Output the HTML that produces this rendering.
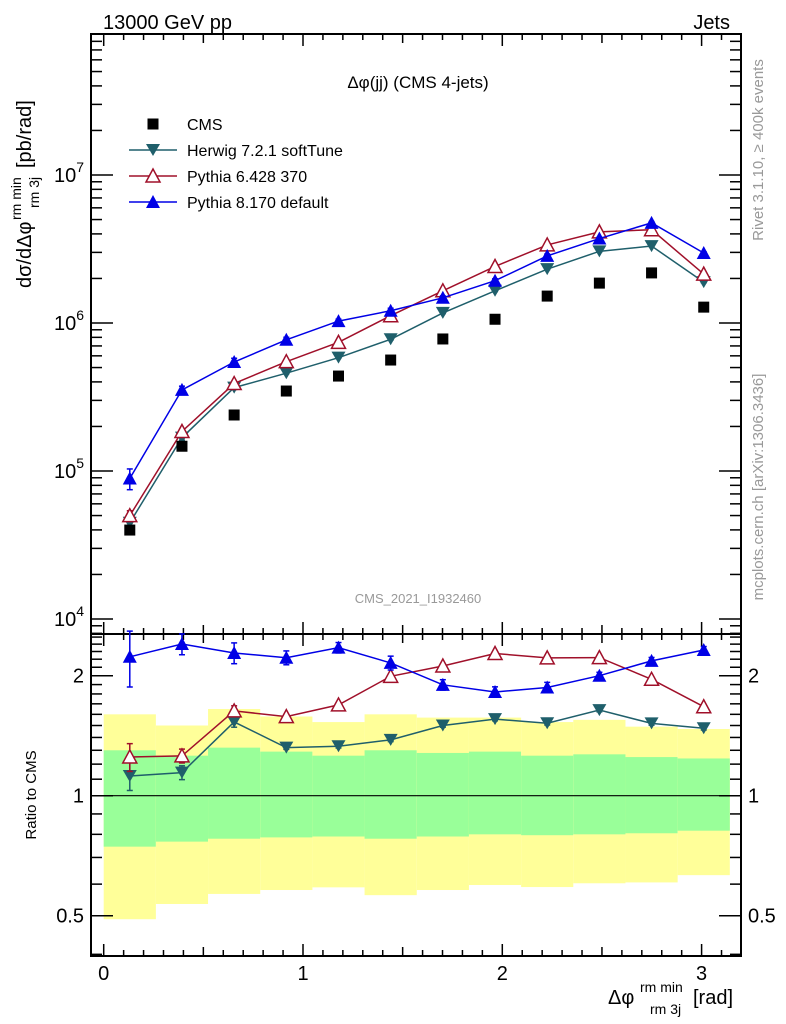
<!DOCTYPE html>
<html><head><meta charset="utf-8"><style>
html,body{margin:0;padding:0;background:#fff;}
svg{display:block;font-family:"Liberation Sans",sans-serif;}
</style></head><body>
<svg id="chart" width="786" height="1024" viewBox="0 0 786 1024">
<g id="bands"></g>
<g id="grid"></g>
<g id="marks"></g>
<text x="103" y="29" font-size="20">13000 GeV pp</text>
<text x="730" y="29" font-size="20" text-anchor="end">Jets</text>
<text x="418" y="88" font-size="17" text-anchor="middle">Δφ(jj) (CMS 4-jets)</text>
<text x="418" y="603" font-size="13" fill="#999" text-anchor="middle">CMS_2021_I1932460</text>
<text transform="translate(763,150) rotate(-90)" font-size="15" fill="#999" text-anchor="middle">Rivet 3.1.10, ≥ 400k events</text>
<text transform="translate(763,487) rotate(-90)" font-size="15" fill="#999" text-anchor="middle">mcplots.cern.ch [arXiv:1306.3436]</text>
<g transform="translate(31,288) rotate(-90)">
<text x="0" y="0" font-size="20">dσ/dΔφ</text>
<text x="68" y="-10" font-size="14">rm min</text>
<text x="80" y="8" font-size="14">rm 3j</text>
<text x="120" y="0" font-size="20">[pb/rad]</text>
</g>
<text transform="translate(36,795) rotate(-90)" font-size="15" text-anchor="middle">Ratio to CMS</text>
<g>
<text x="608" y="1004" font-size="20">Δφ</text>
<text x="640" y="992" font-size="14">rm min</text>
<text x="650" y="1014" font-size="14">rm 3j</text>
<text x="693" y="1004" font-size="20">[rad]</text>
</g>
<g id="legend"></g>
</svg>
<script>
const binEdges=[0,0.2618,0.5236,0.7854,1.0472,1.309,1.5708,1.8326,2.0944,2.3562,2.618,2.8798,3.1416];
const cms=[3.99e4,1.47e5,2.39e5,3.47e5,4.38e5,5.62e5,7.8e5,1.06e6,1.52e6,1.86e6,2.18e6,1.28e6];
const herwig=[4.47e4,1.68e5,3.66e5,4.58e5,5.83e5,7.76e5,1.17e6,1.65e6,2.31e6,3.05e6,3.31e6,1.89e6];
const pythia6=[4.99e4,1.85e5,3.9e5,5.48e5,7.4e5,1.12e6,1.65e6,2.41e6,3.37e6,4.13e6,4.27e6,2.14e6];
const pythia8=[8.9e4,3.53e5,5.45e5,7.7e5,1.03e6,1.21e6,1.48e6,1.93e6,2.84e6,3.72e6,4.75e6,2.97e6];
const herwigErr=[0.08,0.04,0.03,0.01,0.01,0.01,0.01,0.01,0.01,0.01,0.01,0.01];
const pythia6Err=[0.08,0.04,0.03,0.01,0.01,0.01,0.01,0.01,0.01,0.01,0.01,0.01];
const pythia8Err=[0.16,0.06,0.06,0.04,0.03,0.04,0.03,0.03,0.03,0.02,0.02,0.02];
const yellowHi=[1.6,1.5,1.65,1.58,1.53,1.6,1.57,1.57,1.53,1.55,1.49,1.47];
const greenHi=[1.30,1.26,1.32,1.29,1.26,1.30,1.28,1.29,1.26,1.27,1.25,1.24];
const greenLo=[0.745,0.767,0.78,0.786,0.79,0.78,0.79,0.80,0.796,0.80,0.805,0.817];
const yellowLo=[0.49,0.535,0.567,0.58,0.589,0.563,0.58,0.597,0.59,0.603,0.606,0.632];
const xTicks=[0,1,2,3];
const mainTicks=[4,5,6,7];
const ratioTicks=[0.5,1,2];

const NS="http://www.w3.org/2000/svg";
const L=91,R=741,T1=34,B1=634,T2=634,B2=956;
const xs=v=>103.7+199.3*v;
const ym=v=>619-148*(Math.log10(v)-4);
const yr=v=>795.7-120*Math.log2(v);
function mk(parent,tag,attrs){const e=document.createElementNS(NS,tag);for(const k in attrs)e.setAttribute(k,attrs[k]);document.getElementById(parent).appendChild(e);return e;}
const centers=cms.map((_,i)=>(binEdges[i]+binEdges[i+1])/2);

for(let i=0;i<cms.length;i++){
  const x0=xs(binEdges[i]),x1=Math.min(xs(binEdges[i+1]),R);
  let e=mk('bands','rect',{x:x0,y:yr(yellowHi[i]),width:x1-x0,height:yr(yellowLo[i])-yr(yellowHi[i]),fill:'#ffff99'});
  
  
  e=mk('bands','rect',{x:x0,y:yr(greenHi[i]),width:x1-x0,height:yr(greenLo[i])-yr(greenHi[i]),fill:'#99ff99'});
  
  
}
let ln=mk('grid','line',{x1:L,x2:R,y1:yr(1),y2:yr(1),stroke:'#000','stroke-width':1.2});



for(const [t,b] of [[T1,B1],[T2,B2]]){
  const f=mk('grid','rect',{x:L,y:t,width:R-L,height:b-t,fill:'none',stroke:'#000','stroke-width':2});
  
  
  for(let k=0;k<=32;k++){
    const v=k/10;const x=xs(v);if(x>R)break;
    const len=(k%10===0)?12:(k%5===0?9:6);
    mk('grid','line',{x1:x,x2:x,y1:b,y2:b-len,stroke:'#000','stroke-width':1.5});
    mk('grid','line',{x1:x,x2:x,y1:t,y2:t+len,stroke:'#000','stroke-width':1.5});
  }
}
xTicks.forEach(v=>{const t=mk('grid','text',{x:xs(v),y:980,'font-size':20,'text-anchor':'middle'});t.textContent=v;

});
for(let d=3;d<=7;d++)for(let m=1;m<10;m++){
  const v=m*Math.pow(10,d);const y=ym(v);if(y<T1||y>B1)continue;
  const len=m===1?22:11;
  mk('grid','line',{x1:L,x2:L+len,y1:y,y2:y,stroke:'#000','stroke-width':1.5});
  mk('grid','line',{x1:R,x2:R-len,y1:y,y2:y,stroke:'#000','stroke-width':1.5});
}
mainTicks.forEach(d=>{const t=mk('grid','text',{x:84,y:ym(Math.pow(10,d))+7,'font-size':20,'text-anchor':'end'});
t.innerHTML='10<tspan font-size="14" dy="-10">'+d+'</tspan>';

});
[0.4,0.5,0.6,0.7,0.8,0.9,1,1.1,1.2,1.3,1.4,1.5,1.6,1.7,1.8,1.9,2,2.1,2.2,2.3,2.4,2.5].forEach(v=>{
  const y=yr(v);if(y<T2||y>B2)return;
  const len=ratioTicks.includes(v)?22:11;
  mk('grid','line',{x1:L,x2:L+len,y1:y,y2:y,stroke:'#000','stroke-width':1.5});
  mk('grid','line',{x1:R,x2:R-len,y1:y,y2:y,stroke:'#000','stroke-width':1.5});
});
ratioTicks.forEach(v=>{
  let t=mk('grid','text',{x:84,y:yr(v)+7,'font-size':20,'text-anchor':'end'});t.textContent=v;
  
  
  t=mk('grid','text',{x:748,y:yr(v)+7,'font-size':20});t.textContent=v;
  
  
});

function marker(g,type,x,y,color){
  if(type==='square'){return mk(g,'rect',{x:x-5.5,y:y-5.5,width:11,height:11,fill:color});}
  if(type==='down'){return mk(g,'path',{d:`M${x-7},${y-6}L${x+7},${y-6}L${x},${y+6}Z`,fill:color});}
  if(type==='upopen'){return mk(g,'path',{d:`M${x-7},${y+6}L${x+7},${y+6}L${x},${y-7}Z`,fill:'#fff',stroke:color,'stroke-width':1.5});}
  return mk(g,'path',{d:`M${x-7},${y+6}L${x+7},${y+6}L${x},${y-7}Z`,fill:color});
}
const series=[
 {name:'herwig',vals:herwig,err:herwigErr,color:'#1f5f6b',m:'down'},
 {name:'pythia6',vals:pythia6,err:pythia6Err,color:'#a0102a',m:'upopen'},
 {name:'pythia8',vals:pythia8,err:pythia8Err,color:'#0000e6',m:'up'}];
series.forEach(s=>{
  const pm=s.vals.map((v,i)=>[xs(centers[i]),ym(v)]);
  const pr=s.vals.map((v,i)=>[xs(centers[i]),yr(v/cms[i])]);
  for(const [pts,fy,isR] of [[pm,ym,false],[pr,yr,true]]){
    const p=mk('marks','polyline',{points:pts.map(p=>p.join(',')).join(' '),fill:'none',stroke:s.color,'stroke-width':1.5});
    
    
    s.vals.forEach((v,i)=>{
      const base=isR?v/cms[i]:v;
      const y1=fy(base*(1+s.err[i])),y2=fy(base*(1-s.err[i]));
      const x=xs(centers[i]);
      mk('marks','line',{x1:x,x2:x,y1:y1,y2:y2,stroke:s.color,'stroke-width':1.5});
      mk('marks','line',{x1:x-3,x2:x+3,y1:y1,y2:y1,stroke:s.color,'stroke-width':1.5});
      mk('marks','line',{x1:x-3,x2:x+3,y1:y2,y2:y2,stroke:s.color,'stroke-width':1.5});
      const mm=marker('marks',s.m,pts[i][0],pts[i][1],s.color);
      
      
    });
  }
});
cms.forEach((v,i)=>{
  const mm=marker('marks','square',xs(centers[i]),ym(v),'#000');
  
  
});
const leg=[['CMS','square','#000'],['Herwig 7.2.1 softTune','down','#1f5f6b'],['Pythia 6.428 370','upopen','#a0102a'],['Pythia 8.170 default','up','#0000e6']];
leg.forEach((e,i)=>{
  const y=124+i*26;
  if(i>0){mk('legend','line',{x1:129,x2:177,y1:y,y2:y,stroke:e[2],'stroke-width':1.5});}
  marker('legend',e[1],153,y,e[2]);
  const t=mk('legend','text',{x:187,y:y+6,'font-size':16});t.textContent=e[0];
  
  
});
</script>
</body></html>
